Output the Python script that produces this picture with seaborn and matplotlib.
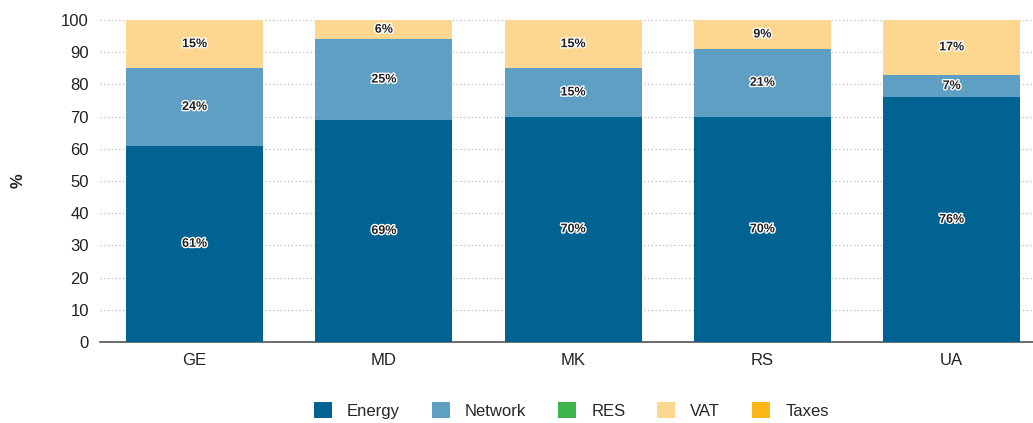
import numpy as np
import pandas as pd
import matplotlib.pyplot as plt
import matplotlib.patheffects as pe
from matplotlib.patches import Patch
import seaborn as sns

countries = ["GE", "MD", "MK", "RS", "UA"]
energy = [61, 69, 70, 70, 76]
network = [24, 25, 15, 21, 7]
res = [0, 0, 0, 0, 0]
vat = [15, 6, 15, 9, 17]
taxes = [0, 0, 0, 0, 0]

components = ["Energy", "Network", "RES", "VAT", "Taxes"]
colors = ["#006391", "#5f9fc3", "#3bb54a", "#fdd78f", "#fbb617"]

df = pd.DataFrame({"country": countries, "Energy": energy, "Network": network,
                   "RES": res, "VAT": vat, "Taxes": taxes})

sns.set_style("white")
plt.rcParams["font.family"] = ["Liberation Sans Narrow", "Liberation Sans", "DejaVu Sans"]

fig = plt.figure(figsize=(10.33, 4.23), dpi=100)
ax = fig.add_axes([100 / 1033, 81 / 423, 933 / 1033, 322 / 423])

bottom = np.zeros(len(countries))
for comp, col in zip(components, colors):
    vals = df[comp].to_numpy(dtype=float)
    sns.barplot(x=df["country"], y=vals, bottom=bottom, color=col, width=0.725,
                saturation=1, linewidth=0, edgecolor="none", ax=ax, zorder=3)
    labels = [f"{int(v)}%" if v > 0 else "" for v in vals]
    txts = ax.bar_label(ax.containers[-1], labels=labels, label_type="center",
                        fontsize=9, fontweight="bold", color="#222222")
    for t in txts:
        t.set_path_effects([pe.withStroke(linewidth=2, foreground="white")])
    bottom += vals

ax.set_xlim(-0.5, 4.43)
ax.set_ylim(0, 100)
ax.set_yticks(range(0, 101, 10))
ax.yaxis.grid(True, linestyle=(0, (1, 2)), color="#bbbbbb", linewidth=0.9, zorder=0)
ax.set_axisbelow(True)
for s in ["left", "right", "top"]:
    ax.spines[s].set_visible(False)
ax.spines["bottom"].set_color("#555555")
ax.spines["bottom"].set_linewidth(1.2)
ax.tick_params(axis="both", length=0, labelsize=12, colors="#222222", pad=8)
ax.set_xlabel("")
ax.set_ylabel("%", fontsize=12, fontweight="bold", color="#222222")
ax.yaxis.set_label_coords(-74 / 933, 0.5)

handles = [Patch(facecolor=c, edgecolor="none") for c in colors]
fig.legend(handles, components, loc="lower center", bbox_to_anchor=(0.553, -0.025),
           ncol=5, frameon=False, fontsize=12, handlelength=1.1, handleheight=1.1,
           columnspacing=1.9, handletextpad=0.9)

fig.savefig("out.png", dpi=100)
